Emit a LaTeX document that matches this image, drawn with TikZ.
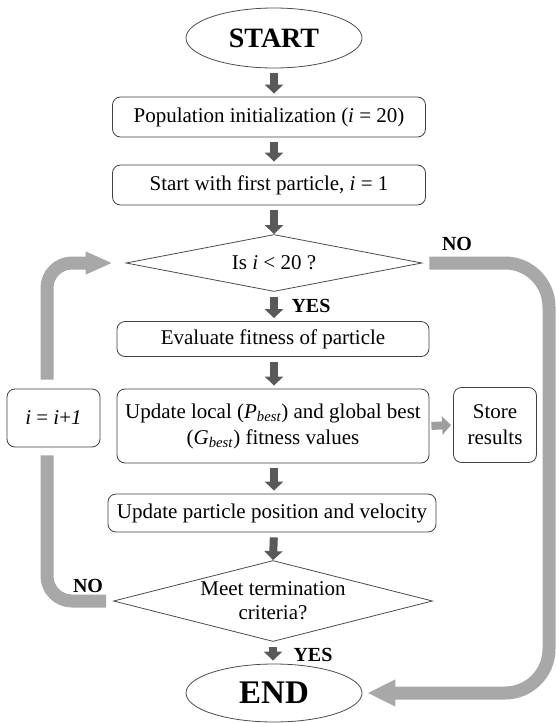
\documentclass[tikz,border=0pt]{standalone}
\usepackage{fontspec}
\setmainfont{Liberation Serif}
\usetikzlibrary{shapes.geometric,arrows.meta}

\begin{document}
\begin{tikzpicture}[x=1pt, y=-1pt,
  box/.style={draw=black!75, line width=0.8pt, rounded corners=8, fill=white, align=center, inner sep=0pt, font=\fontsize{21}{26}\selectfont},
  term/.style={draw=black!70, line width=0.8pt, ellipse, fill=white, inner sep=0pt, font=\bfseries\fontsize{28}{30}\selectfont},
  test/.style={draw=black!70, line width=0.8pt, diamond, fill=white, inner sep=0pt, align=center, font=\fontsize{21}{24}\selectfont},
  dnarrow/.style={draw=black!65, line width=8pt, -{Triangle[width=18pt,length=9pt]}, shorten <=5pt, shorten >=3pt},
  sidearrow/.style={draw=black!38, line width=8pt, -{Triangle[width=18pt,length=9pt]}, shorten <=2pt, shorten >=2pt},
  back/.style={draw=black!34, line width=13pt},
  lab/.style={font=\bfseries\fontsize{20}{22}\selectfont}]

 \useasboundingbox (0,0) rectangle (556,723);

 %main column
 \node[term, minimum width=176, minimum height=60] (start) at (274,38) {START};
 \node[box, minimum width=313, minimum height=40] (pop) at (269,117) {Population initialization (\textit{i} = 20)};
 \node[box, minimum width=313, minimum height=40] (first) at (269,185) {Start with first particle, \textit{i} = 1};
 \node[test, aspect=5.2, minimum width=296, minimum height=57] (isless) at (274,263) {Is \textit{i} < 20 ?};
 \node[box, minimum width=312, minimum height=35] (eval) at (273,339) {Evaluate fitness of particle};
 \node[box, minimum width=312, minimum height=74] (upd) at (273,426) {Update local (\textit{P}\textsubscript{\textit{best}}) and global best\\(\textit{G}\textsubscript{\textit{best}}) fitness values};
 \node[box, minimum width=328, minimum height=38] (move) at (272,513) {Update particle position and velocity};
 \node[test, aspect=3.94, minimum width=319, minimum height=81] (meet) at (273,601) {Meet termination\\criteria?};
 \node[term, minimum width=176, minimum height=58, font=\bfseries\fontsize{33}{35}\selectfont] (end) at (274,693) {END};

 %side boxes
 \node[box, minimum width=83, minimum height=75] (store) at (495,425) {Store\\results};
 \node[box, minimum width=93, minimum height=58] (inc) at (53.5,418) {\textit{i} = \textit{i}+\textit{1}};

 \coordinate (rgt) at (549,0);
 \coordinate (lft) at (47,0);

 %arrow
 \draw[dnarrow] (start.south) -- (start.south |- pop.north);
 \draw[dnarrow] (start |- pop.south) -- (start |- first.north);
 \draw[dnarrow, shorten >=0pt] (start |- first.south) -- (isless.north);
 \draw[dnarrow] (isless.south) -- (isless.south |- eval.north);
 \draw[dnarrow] (isless.south |- eval.south) -- (isless.south |- upd.north);
 \draw[dnarrow] (isless.south |- upd.south) -- (isless.south |- move.north);
 \draw[dnarrow, shorten >=0pt] (isless.south |- move.south) -- (meet.north);
 \draw[dnarrow] (meet.south) -- (meet.south |- end.north);
 \draw[sidearrow] (upd.east) -- (store.west);

 %loops
 \draw[back, rounded corners=44, -{Triangle[width=25pt,length=28pt]}, shorten <=7pt, shorten >=5pt] (isless.east) -| (rgt |- end.east) -- (end.east);
 \draw[back, rounded corners=25, shorten <=7pt, shorten >=8pt] (meet.west) -| (lft |- inc.south);
 \draw[back, rounded corners=25, -{Triangle[width=21pt,length=27pt]}, shorten <=9pt, shorten >=13pt] (lft |- inc.north) |- (isless.west);

 \node[lab] (no1) at (457,244) {NO};
 \node[lab] (yes1) at (311,306) {YES};
 \node[lab] (no2) at (88,586) {NO};
 \node[lab] (yes2) at (313,655) {YES};

\end{tikzpicture}
\end{document}
